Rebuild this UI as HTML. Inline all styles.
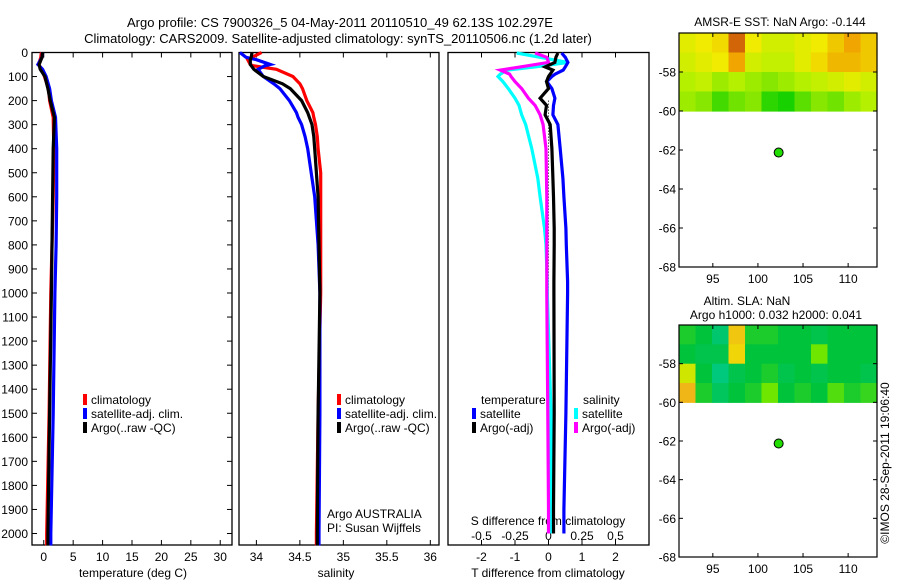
<!DOCTYPE html>
<html><head><meta charset="utf-8">
<style>
html,body{margin:0;padding:0;background:#fff;}
svg{display:block;font-family:"Liberation Sans",sans-serif;}
</style></head>
<body>
<svg id="fig" width="900" height="580" viewBox="0 0 900 580" xmlns="http://www.w3.org/2000/svg">
<text x="340" y="27" font-size="13" text-anchor="middle">Argo profile: CS 7900326_5 04-May-2011 20110510_49 62.13S 102.297E</text>
<text x="338" y="43" font-size="13" text-anchor="middle">Climatology: CARS2009. Satellite-adjusted climatology: synTS_20110506.nc (1.2d later)</text>
<g id="g"></g>
</svg>
<script>
// ---- data ----
const tDepth = [0,20,50,70,100,150,200,270,400,600,800,1000,1500,2000,2050];
const tClim  = [-0.4,-0.5,-0.9,-0.3,0.1,0.8,1.0,1.6,1.7,1.6,1.4,1.2,0.9,0.5,0.5];
const tSat   = [-0.2,-0.3,-1.0,-0.2,0.4,1.0,1.3,2.0,2.2,2.2,2.1,1.9,1.6,1.2,1.2];
const tArgo  = [-0.2,-0.3,-0.8,-0.6,0.2,0.7,1.1,1.8,1.6,1.5,1.4,1.3,1.0,0.7,0.7];

const sDepth = [0,20,30,50,55,70,100,130,150,200,250,270,300,350,400,500,600,800,1000,1500,2000,2050];
const sClim  = [34.06,33.95,33.9,33.93,33.96,34.23,34.42,34.5,34.53,34.58,34.65,34.66,34.68,34.7,34.71,34.74,34.74,34.74,34.74,34.71,34.69,34.69];
const sSat   = [33.81,33.88,34.0,34.16,34.1,34.02,34.08,34.2,34.27,34.38,34.46,34.48,34.52,34.56,34.59,34.63,34.67,34.71,34.73,34.73,34.72,34.72];
const sArgo  = [33.95,33.94,33.93,33.93,33.94,33.97,34.08,34.3,34.39,34.52,34.59,34.61,34.64,34.66,34.67,34.69,34.71,34.72,34.73,34.71,34.70,34.70];

const dDepth = [2,20,41,60,73,90,100,121,150,190,220,259,300,400,523,600,731,800,953,1000,1500,1900,2000];
const dTSat  = [0.39,0.5,0.58,0.5,0.44,0.2,0.1,-0.05,0.1,0.19,0.15,0.13,0.28,0.35,0.43,0.46,0.52,0.53,0.57,0.57,0.52,0.46,0.46];
const dTArgo = [0.28,0.22,0.19,-0.1,0.13,0.05,0.0,-0.06,0.0,-0.25,-0.06,-0.1,0.05,0.1,0.13,0.15,0.17,0.17,0.16,0.16,0.17,0.15,0.15];
const dSSat  = [-0.237,-0.063,0.146,-0.1,-0.31,-0.36,-0.377,-0.34,-0.30,-0.25,-0.22,-0.2,-0.17,-0.125,-0.08,-0.063,-0.03,-0.019,-0.01,-0.009,0.019,0.02,0.02];
const dSArgo = [-0.1,-0.013,0.0,-0.21,-0.36,-0.29,-0.28,-0.25,-0.2,-0.15,-0.1,-0.063,-0.04,-0.019,-0.015,-0.013,-0.013,-0.013,-0.013,-0.013,-0.005,0.0,0.0];

const depthTicks = [0,100,200,300,400,500,600,700,800,900,1000,1100,1200,1300,1400,1500,1600,1700,1800,1900,2000];
const tempTicks = [0,5,10,15,20,25,30];
const salTicks = [34,34.5,35,35.5,36];
const salTickLabels = ["34","34.5","35","35.5","36"];
const dTTicks = [-2,-1,0,1,2];
const dSTicks = [-0.5,-0.25,0,0.25,0.5];
const dSTickLabels = ["-0.5","-0.25","0","0.25","0.5"];
const latTicks = [-58,-60,-62,-64,-66,-68];
const lonTicks = [95,100,105,110];
const argoLon = 102.297, argoLat = -62.13;

const sstGrid = [
 [0.55,0.6,0.65,0.95,0.6,0.5,0.5,0.55,0.6,0.7,0.8,0.7],
 [0.5,0.55,0.6,0.8,0.5,0.45,0.45,0.55,0.65,0.75,0.75,0.7],
 [0.4,0.45,0.35,0.4,0.35,0.3,0.35,0.4,0.45,0.5,0.55,0.5],
 [0.35,0.3,0.15,0.25,0.3,0.1,0.05,0.2,0.3,0.25,0.35,0.4]];
const slaGrid = [
 [0.4,0.35,0.2,0.85,0.4,0.4,0.35,0.35,0.3,0.35,0.35,0.35],
 [0.35,0.3,0.3,0.8,0.35,0.35,0.35,0.35,0.55,0.35,0.35,0.35],
 [0.7,0.35,0.15,0.3,0.35,0.4,0.3,0.35,0.3,0.35,0.35,0.3],
 [0.9,0.4,0.25,0.35,0.4,0.55,0.35,0.4,0.35,0.5,0.4,0.45]];

// ---- helpers ----
const NS="http://www.w3.org/2000/svg";
const G=document.getElementById('g');
const FS=12;
function el(tag,attrs,parent){const e=document.createElementNS(NS,tag);for(const k in attrs)e.setAttribute(k,attrs[k]);(parent||G).appendChild(e);return e;}
function txt(x,y,s,size,anchor,parent){const e=el('text',{x:x,y:y,'font-size':size,'text-anchor':anchor||'middle'},parent);e.textContent=s;return e;}

const TOP=52.5, BOT=545, dScale=0.2405;
const yD=d=>TOP+d*dScale;
const P1={l:32,r:232}, P2={l:239,r:439}, P3={l:448,r:649};
const xT=t=>P1.l+(t+2)*(P1.r-P1.l)/34;
const xS=s=>P2.l+(s-33.8)*(P2.r-P2.l)/2.3;
const xdT=t=>P3.l+(t+3)*(P3.r-P3.l)/6;
const xdS=s=>P3.l+(s+0.75)*(P3.r-P3.l)/1.5;

function box(p,name){
  const r=el('rect',{x:p.l,y:TOP,width:p.r-p.l,height:BOT-TOP,fill:'none',stroke:'#000','stroke-width':1.3});
  
  
}
function line(xs,ds,fx,color,name,w){
  const pts=xs.map((v,i)=>fx(v).toFixed(1)+','+yD(ds[i]).toFixed(1)).join(' ');
  const p=el('polyline',{points:pts,fill:'none',stroke:color,'stroke-width':w||3.2,'stroke-linejoin':'miter'});
  
  
}
function xticks(vals,labels,fx,name,ylab){
  const g=el('g',{});
  
  
  vals.forEach((v,i)=>{const x=fx(v);
    el('line',{x1:x,y1:BOT,x2:x,y2:BOT-5,stroke:'#000'},g);
    el('line',{x1:x,y1:TOP,x2:x,y2:TOP+5,stroke:'#000'},g);
    txt(x,ylab,labels[i],FS,'middle',g);});
}
function legend(x,y,items,name){
  const g=el('g',{});
  
  
  items.forEach((it,i)=>{const yy=y+i*14;
    el('rect',{x:x,y:yy-10,width:4,height:11,fill:it[0]},g);
    txt(x+8,yy,it[1],FS,'start',g);});
}

// ---- panel 1 temperature ----
box(P1,'temperature-axes');
const dg=el('g',{});


depthTicks.forEach(d=>{const y=yD(d);
  el('line',{x1:P1.l,y1:y,x2:P1.l+5,y2:y,stroke:'#000'},dg);
  el('line',{x1:P1.r,y1:y,x2:P1.r-5,y2:y,stroke:'#000'},dg);
  txt(28,y+4.5,String(d),FS,'end',dg);});
xticks(tempTicks,tempTicks.map(String),xT,'temperature-x-axis',561);
txt(133,577,'temperature (deg C)',FS);
line(tClim,tDepth,xT,'#ff0000','temp-climatology-line');
line(tSat,tDepth,xT,'#0000ff','temp-satellite-line');
line(tArgo,tDepth,xT,'#000000','temp-argo-line');
legend(83,404,[['#ff0000','climatology'],['#0000ff','satellite-adj. clim.'],['#000000','Argo(..raw -QC)']],'temperature-legend');

// ---- panel 2 salinity ----
box(P2,'salinity-axes');
xticks(salTicks,salTickLabels,xS,'salinity-x-axis',561);
txt(336,577,'salinity',FS);
line(sClim,sDepth,xS,'#ff0000','sal-climatology-line');
line(sSat,sDepth,xS,'#0000ff','sal-satellite-line');
line(sArgo,sDepth,xS,'#000000','sal-argo-line');
legend(337,404,[['#ff0000','climatology'],['#0000ff','satellite-adj. clim.'],['#000000','Argo(..raw -QC)']],'salinity-legend');
const inst=el('g',{});


txt(327,518,'Argo AUSTRALIA',FS,'start',inst);
txt(327,532,'PI: Susan Wijffels',FS,'start',inst);

// ---- panel 3 differences ----
box(P3,'difference-axes');
xticks(dTTicks,dTTicks.map(String),xdT,'t-difference-x-axis',561);
txt(548,577,'T difference from climatology',FS);
const sg=el('g',{});


dSTicks.forEach((v,i)=>txt(xdS(v),540,dSTickLabels[i],FS,'middle',sg));
txt(548,525,'S difference from climatology',FS,'middle',sg);
const z=el('line',{x1:xdT(0),y1:yD(200),x2:xdT(0),y2:yD(1700),stroke:'#000','stroke-dasharray':'1,2'});


line(dSSat,dDepth,xdS,'#00ffff','s-diff-satellite-line');
line(dSArgo,dDepth,xdS,'#ff00ff','s-diff-argo-line');
line(dTSat,dDepth,xdT,'#0000ff','t-diff-satellite-line');
line(dTArgo,dDepth,xdT,'#000000','t-diff-argo-line');
txt(481,404,'temperature',FS,'start');
legend(472,418,[['#0000ff','satellite'],['#000000','Argo(-adj)']],'t-difference-legend');
txt(583,404,'salinity',FS,'start');
legend(574,418,[['#00ffff','satellite'],['#ff00ff','Argo(-adj)']],'s-difference-legend');

// ---- maps ----
const ML=679, MR=877, LON0=91.25, LON1=113.2;
const xLon=l=>ML+(l-LON0)*(MR-ML)/(LON1-LON0);
function lerp(a,b,t){return a.map((v,i)=>Math.round(v+(b[i]-v)*t));}
function cmap(stops,v){for(let i=1;i<stops.length;i++){if(v<=stops[i][0]){const t=(v-stops[i-1][0])/(stops[i][0]-stops[i-1][0]);const c=lerp(stops[i-1][1],stops[i][1],t);return 'rgb('+c.join(',')+')';}}return 'rgb('+stops[stops.length-1][1].join(',')+')';}
const sstStops=[[0,[0,205,0]],[0.4,[180,240,0]],[0.6,[240,235,0]],[0.8,[240,165,0]],[1,[200,80,10]]];
const slaStops=[[0,[0,205,175]],[0.35,[0,195,60]],[0.55,[110,230,0]],[0.75,[240,230,0]],[1,[240,150,40]]];
function map(top,bot,grid,stops,name,titles){
  const yLat=l=>top+(-56-l)*(bot-top)/12;
  const g=el('g',{});
  
  
  const nc=grid[0].length, dl=(LON1-LON0)/nc;
  grid.forEach((row,r)=>row.forEach((v,c)=>{
    const c1=el('rect',{x:xLon(LON0+c*dl).toFixed(1),y:yLat(-56-r).toFixed(1),width:((MR-ML)/nc+0.6).toFixed(1),height:(yLat(-57)-yLat(-56)+0.6).toFixed(1),fill:cmap(stops,v)},g);
    
    
  }));
  el('rect',{x:ML,y:top,width:MR-ML,height:bot-top,fill:'none',stroke:'#000','stroke-width':1.2},g);
  latTicks.forEach(l=>{const y=yLat(l);
    el('line',{x1:ML,y1:y,x2:ML+4,y2:y,stroke:'#000'},g);
    el('line',{x1:MR,y1:y,x2:MR-4,y2:y,stroke:'#000'},g);
    txt(ML-3,y+4.5,String(l),FS,'end',g);});
  lonTicks.forEach(l=>{const x=xLon(l);
    el('line',{x1:x,y1:bot,x2:x,y2:bot-4,stroke:'#000'},g);
    el('line',{x1:x,y1:top,x2:x,y2:top+4,stroke:'#000'},g);
    txt(x,bot+16,String(l),FS,'middle',g);});
  const dot=el('circle',{cx:xLon(argoLon),cy:yLat(argoLat),r:4.5,fill:'#22dd00',stroke:'#000','stroke-width':1},g);
  
  
  titles.forEach(t=>txt(t[0],t[1],t[2],FS,'middle',g));
}
map(33,267,sstGrid,sstStops,'sst-map',[[780,26,'AMSR-E SST: NaN Argo: -0.144']]);
map(325,557,slaGrid,slaStops,'sla-map',[[747,305,'Altim. SLA: NaN'],[776,319,'Argo h1000: 0.032 h2000: 0.041']]);

const cp=txt(0,0,'©IMOS 28-Sep-2011 19:06:40',FS,'middle');
cp.setAttribute('transform','translate(889,463) rotate(-90)');


</script>
</body></html>
